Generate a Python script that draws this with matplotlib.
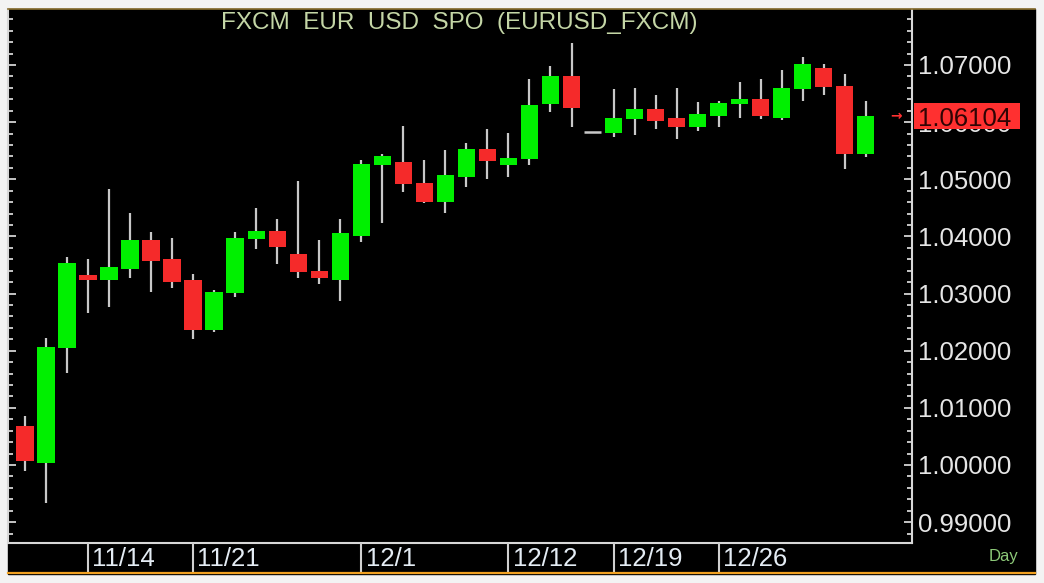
import matplotlib
matplotlib.use("Agg")
import numpy as np
import pandas as pd
import matplotlib.pyplot as plt
from matplotlib.ticker import MultipleLocator, FormatStrFormatter
from matplotlib.transforms import blended_transform_factory

plt.rcParams['font.family'] = ['Liberation Sans', 'DejaVu Sans']

# ---- data: EURUSD daily OHLC ----
dates = pd.bdate_range("2022-11-09", "2023-01-04")
opens = [1.00687, 1.00029, 1.02042, 1.03325, 1.03243, 1.03435, 1.03932, 1.03600, 1.03232, 1.02368,
         1.03005, 1.03950, 1.04100, 1.03698, 1.03400, 1.03237, 1.04007, 1.05245, 1.05302, 1.04935,
         1.04608, 1.05045, 1.05535, 1.05245, 1.05350, 1.06317, 1.06807, 1.05833, 1.05815, 1.06050,
         1.06235, 1.06067, 1.05910, 1.06113, 1.06312, 1.06405, 1.06078, 1.06575, 1.06942, 1.06638,
         1.05442]
highs = [1.00862, 1.02227, 1.03635, 1.03600, 1.04830, 1.04405, 1.04077, 1.03972, 1.03337, 1.03062,
         1.04072, 1.04503, 1.04305, 1.04970, 1.03937, 1.04305, 1.05337, 1.05437, 1.05938, 1.05337,
         1.05507, 1.05640, 1.05875, 1.05810, 1.06750, 1.06982, 1.07380, 1.05833, 1.06575, 1.06603,
         1.06475, 1.06603, 1.06347, 1.06370, 1.06708, 1.06750, 1.06912, 1.07145, 1.07018, 1.06848,
         1.06375]
lows = [0.99895, 0.99329, 1.01605, 1.02665, 1.02770, 1.03267, 1.03033, 1.03103, 1.02200, 1.02327,
        1.02945, 1.03775, 1.03512, 1.03278, 1.03167, 1.02870, 1.03908, 1.04240, 1.04772, 1.04580,
        1.04405, 1.04870, 1.05010, 1.05045, 1.05245, 1.06183, 1.05910, 1.05833, 1.05745, 1.05780,
        1.05875, 1.05710, 1.05845, 1.05910, 1.06078, 1.06050, 1.06037, 1.06375, 1.06475, 1.05175,
        1.05385]
closes = [1.00070, 1.02059, 1.03530, 1.03237, 1.03465, 1.03932, 1.03575, 1.03208, 1.02368, 1.03033,
          1.03967, 1.04100, 1.03810, 1.03372, 1.03272, 1.04065, 1.05267, 1.05407, 1.04912, 1.04608,
          1.05070, 1.05535, 1.05315, 1.05372, 1.06305, 1.06807, 1.06247, 1.05833, 1.06072, 1.06235,
          1.06020, 1.05915, 1.06137, 1.06340, 1.06405, 1.06113, 1.06603, 1.07012, 1.06620, 1.05442,
          1.06104]
date_labels = ["11/14", "11/21", "12/1", "12/12", "12/19", "12/26"]
title = "FXCM  EUR  USD  SPO  (EURUSD_FXCM)"

UP = "#00f000"
DOWN = "#f52a2a"
WICK = "#c8c8c8"
TAG = "#ff3030"
W, H = 1044, 583
RECT = [8 / W, (H - 542.7) / H, 904 / W, 533.7 / H]
YLIM = (0.98640, 1.07980)

fig = plt.figure(figsize=(W / 100, H / 100), dpi=100, facecolor="#f3f3f3")

# black panel + borders (behind the axes)
fig.patches.append(plt.Rectangle((8 / W, (H - 574) / H), 1027 / W, 565 / H,
                                 transform=fig.transFigure, color="black", zorder=-5))
fig.add_artist(plt.Line2D([8 / W, 1035 / W], [(H - 9) / H] * 2, color="#8a7030", lw=1.2))
fig.add_artist(plt.Line2D([8 / W, 1035 / W], [(H - 573) / H] * 2, color="#f0a020", lw=1.6))

# main price axes
ax = fig.add_axes(RECT, facecolor="black")
x = np.arange(len(opens))
o, hi, lo, c = map(np.array, (opens, highs, lows, closes))

ax.vlines(x, lo, hi, color=WICK, lw=1.6, zorder=2)
up = c > o
down = c < o
flat = c == o
ax.bar(x[up], (c - o)[up], bottom=o[up], width=0.83, color=UP, zorder=3)
ax.bar(x[down], (o - c)[down], bottom=c[down], width=0.83, color=DOWN, zorder=3)
ax.hlines(c[flat], x[flat] - 0.42, x[flat] + 0.42, color=WICK, lw=1.8, zorder=3)

ax.set_xlim(-0.81, 42.2)
ax.set_ylim(*YLIM)
ax.yaxis.set_major_locator(MultipleLocator(0.01))
ax.yaxis.set_minor_locator(MultipleLocator(0.002))
ax.yaxis.set_major_formatter(FormatStrFormatter("%.5f"))
ax.set_xticks([])
ax.tick_params(axis="y", which="both", direction="in", left=True, right=True,
               labelleft=False, labelright=True, colors="#e6e6e6", width=1.2, pad=4.3)
ax.tick_params(axis="y", which="major", length=6, labelsize=18.5)
ax.tick_params(axis="y", which="minor", length=3.6)
for s in ("left", "right", "bottom"):
    ax.spines[s].set_color("#d8d8d8")
    ax.spines[s].set_linewidth(1.5)
ax.spines["top"].set_visible(False)

# last price tag on an overlay axes so it sits above the tick labels
axt = fig.add_axes(RECT, facecolor="none", zorder=5)
axt.set_ylim(*YLIM)
axt.axis("off")
tr = blended_transform_factory(axt.transAxes, axt.transData)
half = 13 * (YLIM[1] - YLIM[0]) / 533.7
axt.add_patch(plt.Rectangle((1.002, closes[-1] - half), 106 / 904, 2 * half, transform=tr,
                            facecolor=TAG, edgecolor="none", clip_on=False))
axt.text(1.0 + 6 / 904, closes[-1], f"{closes[-1]:.5f}", transform=tr, ha="left",
         va="center_baseline", fontsize=18.5, color="#300404", clip_on=False)
axt.text(0.9825, closes[-1], "→", transform=tr, ha="center", va="center", fontsize=10,
         fontweight="bold", color=TAG, family="DejaVu Sans", clip_on=False)

fig.text(459 / W, (H - 23) / H, title, ha="center", va="center", fontsize=17.5, color="#c4d6a6")

# date strip
axd = fig.add_axes([8 / W, (H - 572) / H, 904 / W, 29.3 / H], facecolor="black")
axd.set_xlim(ax.get_xlim())
axd.set_ylim(0, 1)
axd.axis("off")
md = [f"{d.month}/{d.day}" for d in dates]
for lab in date_labels:
    i = md.index(lab)
    axd.axvline(i, color="#d0d0d0", lw=1.5)
    axd.text(i + 0.2, 0.45, lab, ha="left", va="center", fontsize=18.5, color="#e4ecf4")

fig.text(1004 / W, (H - 556) / H, "Day", ha="center", va="center", fontsize=12, color="#8cc878")

fig.savefig("out.png", dpi=100, facecolor=fig.get_facecolor())
